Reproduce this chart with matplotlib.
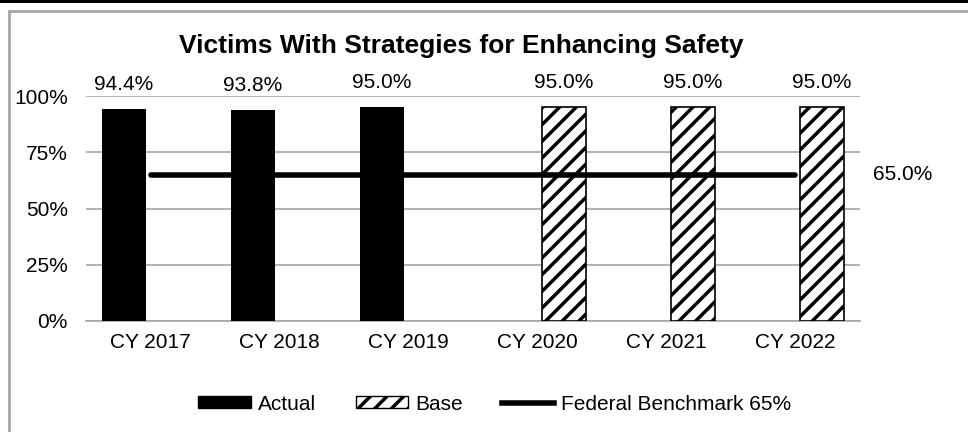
import numpy as np
import matplotlib.pyplot as plt
from matplotlib.patches import Rectangle, Patch
from matplotlib.lines import Line2D

plt.rcParams['font.family'] = ['Liberation Sans', 'DejaVu Sans']
plt.rcParams['hatch.linewidth'] = 2.5

# Datos
years = ['CY 2017', 'CY 2018', 'CY 2019', 'CY 2020', 'CY 2021', 'CY 2022']
actual = [94.4, 93.8, 95.0, None, None, None]
base = [None, None, None, 95.0, 95.0, 95.0]
benchmark = [65, 65, 65, 65, 65, 65]
benchmark_label = '65.0%'

fs = 15

fig = plt.figure(figsize=(9.68, 4.32), dpi=100)

# Marco exterior
fig.patches.append(Rectangle((0, 1 - 3 / 432), 1, 3 / 432, transform=fig.transFigure,
                             facecolor='black', edgecolor='none', zorder=0))
fig.patches.append(Rectangle((9 / 968, -0.1), 1.2, 1 - 11 / 432 + 0.1, transform=fig.transFigure,
                             facecolor='none', edgecolor='#a6a6a6', linewidth=2, zorder=0))

ax = fig.add_axes([86 / 968, 111 / 432, 774 / 968, 225 / 432])

x = np.arange(len(years))
w = 0.34
off = 0.205

for i in range(len(years)):
    if actual[i] is not None:
        ax.bar(x[i] - off, actual[i], w, color='black', zorder=3)
        ax.annotate(f'{actual[i]:.1f}%', (x[i] - off, actual[i]), xytext=(0, 17.5),
                    textcoords='offset points', ha='center', va='center', fontsize=fs,
                    annotation_clip=False)
    if base[i] is not None:
        ax.bar(x[i] + off, base[i], w, facecolor='white', edgecolor='black',
               hatch='//', linewidth=1.2, zorder=3)
        ax.annotate(f'{base[i]:.1f}%', (x[i] + off, base[i]), xytext=(0, 17.5),
                    textcoords='offset points', ha='center', va='center', fontsize=fs,
                    annotation_clip=False)

ax.plot(x, benchmark, color='black', linewidth=4, zorder=4, solid_capstyle='round')
ax.text(1.0 + 43 / 774, benchmark[-1], benchmark_label, transform=ax.get_yaxis_transform(),
        ha='center', va='center', fontsize=fs)

ax.set_xlim(-0.5, len(years) - 0.5)
ax.set_ylim(0, 100)
ax.set_yticks([0, 25, 50, 75, 100])
ax.set_yticklabels(['0%', '25%', '50%', '75%', '100%'], fontsize=fs)
ax.set_xticks(x)
ax.set_xticklabels(years, fontsize=fs)
ax.tick_params(axis='y', length=0, pad=13)
ax.tick_params(axis='x', length=0, pad=9)
ax.grid(axis='y', color='#a6a6a6', linewidth=1.2, zorder=0)
for s in ['top', 'right', 'left']:
    ax.spines[s].set_visible(False)
ax.spines['bottom'].set_color('#a6a6a6')
ax.spines['bottom'].set_linewidth(1.2)

fig.text(461 / 968, 1 - 46 / 432, 'Victims With Strategies for Enhancing Safety',
         ha='center', va='center', fontsize=19, fontweight='bold')

handles = [Patch(facecolor='black', edgecolor='black', label='Actual'),
           Patch(facecolor='white', edgecolor='black', hatch='//', label='Base'),
           Line2D([0], [0], color='black', linewidth=4, label='Federal Benchmark 65%')]
fig.legend(handles=handles, loc='center', bbox_to_anchor=(495 / 968, 1 - 404 / 432), ncol=3,
           frameon=False, fontsize=fs, handlelength=2.5, columnspacing=1.9, handletextpad=0.35,
           handleheight=0.45)

plt.savefig('out.png', dpi=100)
